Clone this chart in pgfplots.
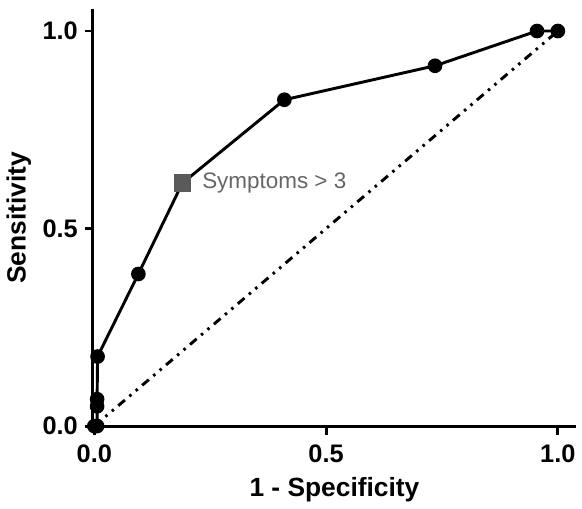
\documentclass[border=0pt]{standalone}
\usepackage{pgfplots}
\pgfplotsset{compat=1.18}
\usepackage{fontspec}
\setmainfont{Liberation Sans}
\definecolor{sqgray}{HTML}{5A5A5A}
\definecolor{txtgray}{HTML}{666666}
\begin{document}
\begin{tikzpicture}
\begin{axis}[
  scale only axis,
  width=248pt, height=214pt,
  xmin=-0.004, xmax=1.04,
  ymin=-0.002, ymax=1.055,
  axis x line=bottom, axis y line=left,
  axis line style={-, line width=1.5pt},
  xtick={0,0.5,1}, ytick={0,0.5,1},
  xticklabels={0.0,0.5,1.0}, yticklabels={0.0,0.5,1.0},
  tick style={line width=1.5pt, black},
  tick align=outside, major tick length=4pt,
  /pgf/number format/assume math mode=true,
  ticklabel style={font=\bfseries\fontsize{13}{15}\selectfont},
  xticklabel style={yshift=-1.5pt},
  xlabel={1 - Specificity}, ylabel={Sensitivity},
  label style={font=\bfseries\fontsize{13.5}{15}\selectfont},
  xlabel style={yshift=-1pt},
  ylabel style={yshift=-1pt},
  clip=false,
]
\addplot[black, line width=1.5pt, dash pattern=on 4.5pt off 3pt on 1.3pt off 3pt on 1.3pt off 3pt]
  coordinates {(0,0) (1,1)};
\addplot[black, line width=1.5pt, mark=*, mark size=3pt]
  coordinates {
  (0,0) (0.006,0) (0.006,0.05) (0.006,0.068) (0.007,0.176)
  (0.095,0.385) (0.19,0.615) (0.41,0.826) (0.735,0.912) (0.955,1.0) (1.0,1.0)
  };
\addplot[only marks, mark=square*, mark size=4.3pt, sqgray, mark options={draw=sqgray, fill=sqgray}]
  coordinates {(0.19,0.615)};
\node[anchor=west, text=txtgray, font=\fontsize{11.5}{13}\selectfont, inner sep=0pt]
  at (axis cs:0.232,0.615) {Symptoms > 3};
\end{axis}
\path (current bounding box.north) ++(0,4pt);
\end{tikzpicture}
\end{document}
